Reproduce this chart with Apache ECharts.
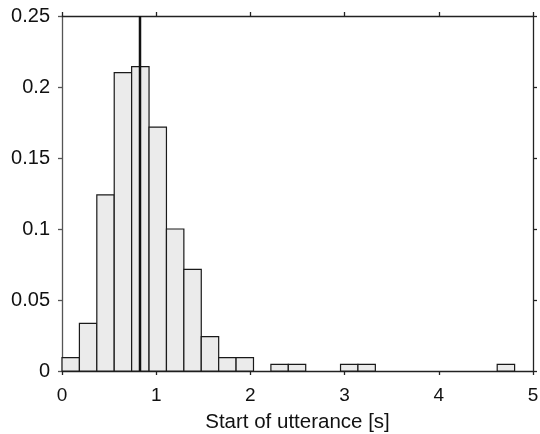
<!DOCTYPE html>
<html><head><meta charset="utf-8">
<script src="https://cdn.jsdelivr.net/npm/echarts@6/dist/echarts.min.js"></script>
<style>html,body{margin:0;padding:0;background:#fff}#c{width:540px;height:434px}</style>
</head><body><div id="c"></div>
<script>
// Histogram data
var binStart = 0;
var binWidth = 0.1848;
var binValues = [0.0094, 0.0336, 0.1240, 0.2101, 0.2143, 0.1718, 0.1000, 0.0716, 0.0242, 0.0094, 0.0094, 0, 0.0047, 0.0047, 0, 0, 0.0047, 0.0047, 0, 0, 0, 0, 0, 0, 0, 0.0047];
var markerX = 0.828;
var xTicks = [0, 1, 2, 3, 4, 5];
var yTicks = [0, 0.05, 0.1, 0.15, 0.2, 0.25];
var xLabel = 'Start of utterance [s]';

var binData = binValues.map(function (v, i) {
  return [binStart + i * binWidth, binStart + (i + 1) * binWidth, v];
});

var font = 'Liberation Sans, Arial, sans-serif';
var axisCol = '#222';
function axis(extra, col) {
  var c = col || axisCol;
  return Object.assign({
    axisLine: { show: true, onZero: false, lineStyle: { color: c, width: 1.3 } },
    axisTick: { show: true, inside: false, length: 4, lineStyle: { color: c, width: 1.3 } },
    splitLine: { show: false }
  }, extra);
}

var chart = echarts.init(document.getElementById('c'));
chart.setOption({
  animation: false,
  grid: { left: 62, right: 7, top: 16, bottom: 63, containLabel: false, outerBoundsMode: 'none' },
  xAxis: [
    axis({ type: 'value', min: xTicks[0], max: xTicks[xTicks.length - 1], interval: 1, position: 'bottom',
      name: xLabel, nameLocation: 'middle', nameGap: 41,
      nameTextStyle: { fontFamily: font, fontSize: 20.5, color: '#111' },
      axisLabel: { fontFamily: font, fontSize: 19, color: '#111', margin: 15 } }),
    axis({ type: 'value', min: xTicks[0], max: xTicks[xTicks.length - 1], interval: 1, position: 'top',
      axisLabel: { show: false } })
  ],
  yAxis: [
    axis({ type: 'value', min: yTicks[0], max: yTicks[yTicks.length - 1], interval: 0.05, position: 'left',
      axisLabel: { fontFamily: font, fontSize: 20, color: '#111', margin: 12 } }, '#555'),
    axis({ type: 'value', min: yTicks[0], max: yTicks[yTicks.length - 1], interval: 0.05, position: 'right',
      axisLabel: { show: false } })
  ],
  series: [
    {
      type: 'custom',
      xAxisIndex: 0, yAxisIndex: 0,
      data: binData,
      encode: { x: [0, 1], y: 2 },
      renderItem: function (params, api) {
        var v = api.value(2);
        if (v <= 0) return null;
        var p0 = api.coord([api.value(0), 0]);
        var p1 = api.coord([api.value(1), v]);
        return {
          type: 'rect',
          shape: { x: p0[0], y: p1[1], width: p1[0] - p0[0], height: p0[1] - p1[1] },
          style: { fill: '#ebebeb', stroke: '#1a1a1a', lineWidth: 1.2 }
        };
      },
      z: 2
    },
    {
      type: 'line',
      xAxisIndex: 0, yAxisIndex: 0,
      data: [[markerX, yTicks[0]], [markerX, yTicks[yTicks.length - 1]]],
      symbol: 'none',
      lineStyle: { color: '#111', width: 2.5 },
      z: 3
    }
  ]
});
</script></body></html>
